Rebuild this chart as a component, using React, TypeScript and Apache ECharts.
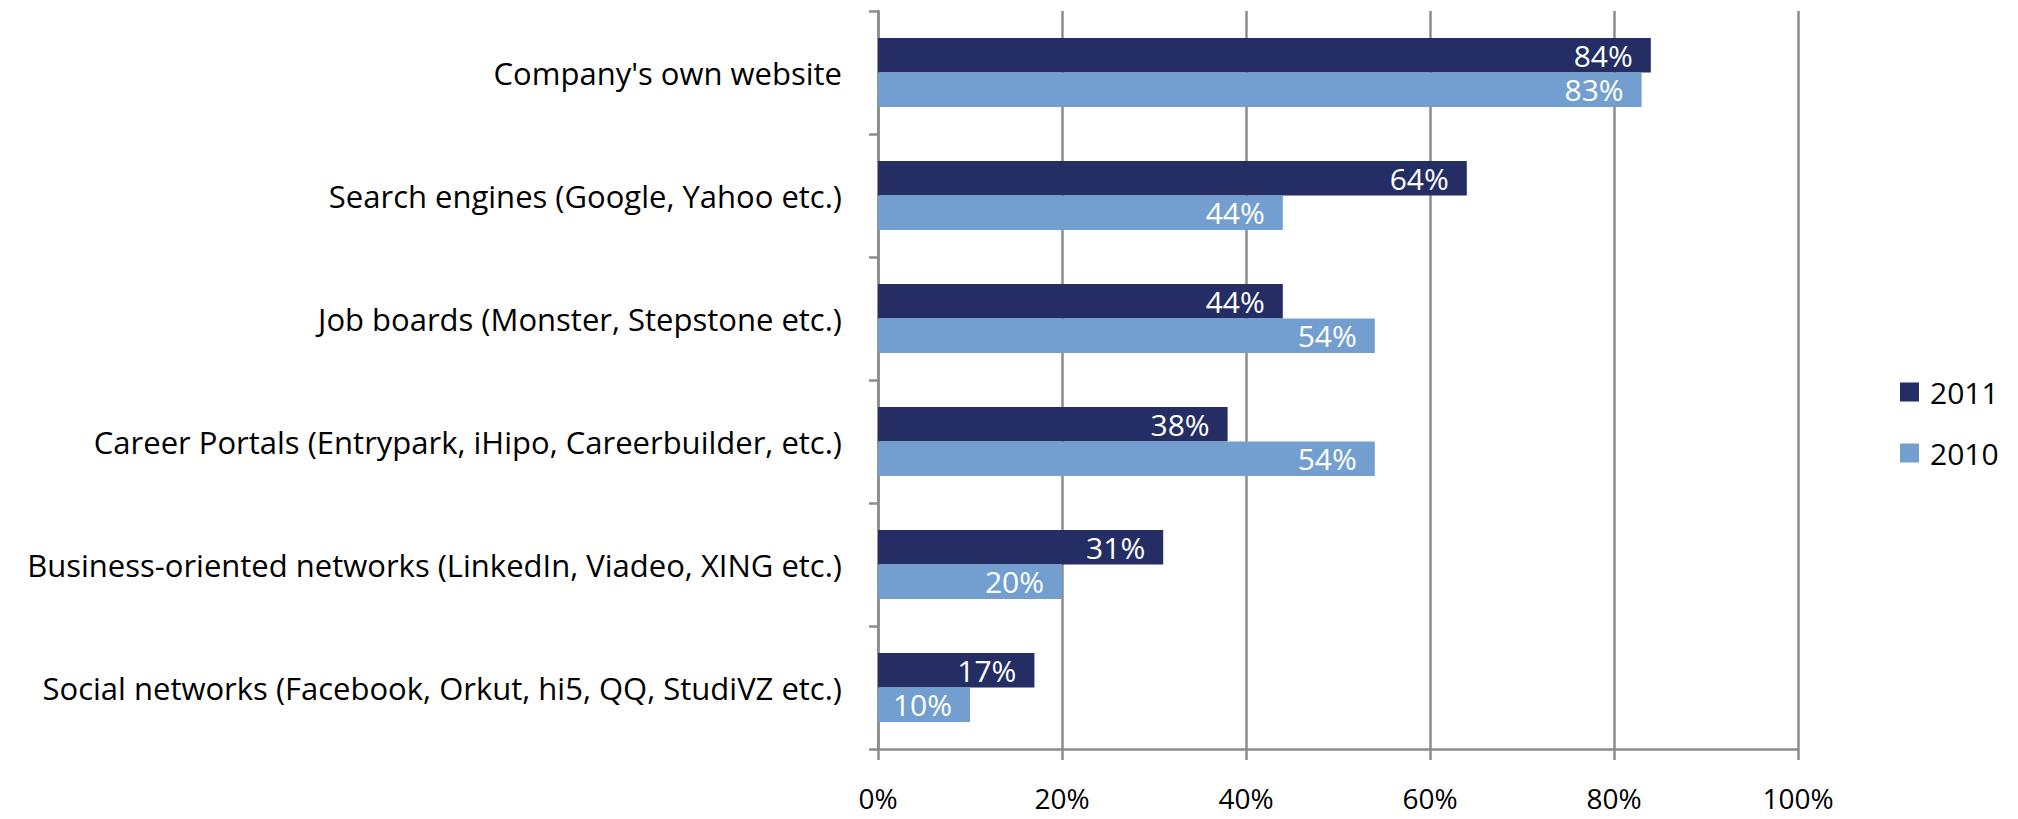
import React, { useEffect, useRef } from "react";
import * as echarts from "echarts";

const categories = [
  "Company's own website",
  "Search engines (Google, Yahoo etc.)",
  "Job boards (Monster, Stepstone etc.)",
  "Career Portals (Entrypark, iHipo, Careerbuilder, etc.)",
  "Business-oriented networks (LinkedIn, Viadeo, XING etc.)",
  "Social networks (Facebook, Orkut, hi5, QQ, StudiVZ etc.)",
];
const series2011 = [84, 64, 44, 38, 31, 17];
const series2010 = [83, 44, 54, 54, 20, 10];
const xTicks = [0, 20, 40, 60, 80, 100];

const FONT = "'Open Sans', sans-serif";
const AXIS_GRAY = "#8c8c8c";

export default function App() {
  const ref = useRef<HTMLDivElement>(null);
  useEffect(() => {
    document.body.style.margin = "0";
    const chart = echarts.init(ref.current!, null, { renderer: "svg" });
    const labelStyle = {
      show: true,
      position: "insideRight",
      distance: 18,
      color: "#ffffff",
      fontFamily: FONT,
      fontSize: 30,
      lineHeight: 30,
      formatter: (p: any) => p.value + "%",
    };
    chart.setOption({
      animation: false,
      backgroundColor: "#ffffff",
      textStyle: { fontFamily: FONT },
      grid: { left: 878, right: 220, top: 11, bottom: 70, containLabel: false },
      legend: {
        orient: "vertical",
        left: 1895,
        top: 372,
        itemWidth: 19,
        itemHeight: 19,
        itemGap: 31,
        icon: "rect",
        textStyle: {
          fontFamily: FONT,
          fontSize: 30,
          color: "#000",
          lineHeight: 30,
          padding: [0, 0, 0, 6],
        },
        data: ["2011", "2010"],
      },
      xAxis: {
        type: "value",
        min: xTicks[0],
        max: xTicks[xTicks.length - 1],
        interval: 20,
        axisLine: { show: true, lineStyle: { color: AXIS_GRAY, width: 2.5 } },
        axisTick: { show: true, length: 11, lineStyle: { color: AXIS_GRAY, width: 2.5 } },
        splitLine: { show: true, lineStyle: { color: AXIS_GRAY, width: 2.5 } },
        axisLabel: {
          margin: 36,
          color: "#000",
          fontFamily: FONT,
          fontSize: 28,
          lineHeight: 26,
          formatter: (v: number) => v + "%",
        },
      },
      yAxis: {
        type: "category",
        inverse: true,
        data: categories,
        axisLine: { show: true, lineStyle: { color: AXIS_GRAY, width: 2.5 } },
        axisTick: { show: true, length: 9, lineStyle: { color: AXIS_GRAY, width: 2.5 } },
        axisLabel: { margin: 36, color: "#000", fontFamily: FONT, fontSize: 31 },
      },
      series: [
        {
          name: "2011",
          type: "bar",
          data: series2011,
          barWidth: 34.5,
          barGap: "0%",
          itemStyle: { color: "#242D64" },
          label: labelStyle,
        },
        {
          name: "2010",
          type: "bar",
          data: series2010,
          barWidth: 34.5,
          barGap: "0%",
          itemStyle: { color: "#729FCF" },
          label: labelStyle,
        },
      ],
    });
    return () => chart.dispose();
  }, []);
  return <div ref={ref} style={{ width: 2018, height: 819 }} />;
}
